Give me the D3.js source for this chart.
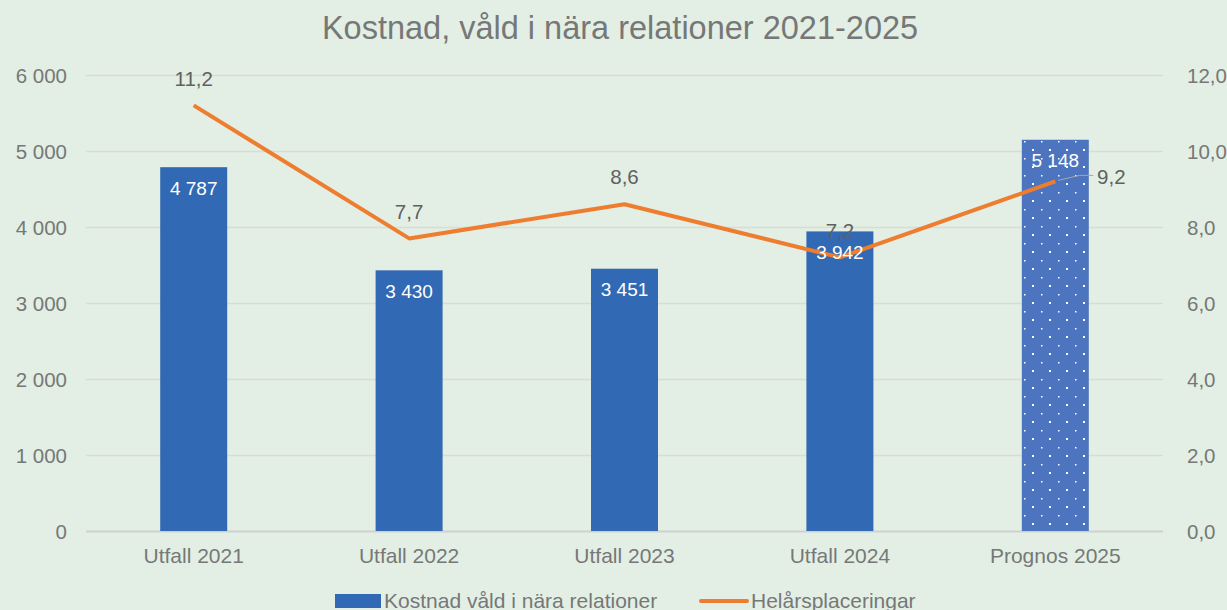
<!DOCTYPE html>
<html>
  <head>
    <meta charset="UTF-8" />
    <style>
      body { margin: 0; background: #e3efe4; }
      svg { display: block; font-family: "Liberation Sans", Arial, sans-serif; }
    </style>
  </head>
  <body>
    <svg></svg>
    <script src="https://d3js.org/d3.v7.min.js"></script>
    <script>
      let width = 1227,
        height = 610;

      // data
      var categories = ["Utfall 2021", "Utfall 2022", "Utfall 2023", "Utfall 2024", "Prognos 2025"];
      var kostnad = [4787, 3430, 3451, 3942, 5148];
      var placeringar = [11.2, 7.7, 8.6, 7.2, 9.2];
      var leftTicks = [0, 1000, 2000, 3000, 4000, 5000, 6000];
      var rightTicks = [0, 2, 4, 6, 8, 10, 12];

      let svg = d3.select("svg").attr("width", width).attr("height", height);

      svg.append("rect").attr("width", width).attr("height", height).attr("fill", "#e3efe4");

      // dotted pattern for forecast bar
      let defs = svg.append("defs");
      let pat = defs
        .append("pattern")
        .attr("id", "dots")
        .attr("patternUnits", "userSpaceOnUse")
        .attr("width", 17)
        .attr("height", 17);
      pat.append("rect").attr("width", 17).attr("height", 17).attr("fill", "#4d74be");
      pat.append("rect").attr("x", 4).attr("y", 5).attr("width", 1.5).attr("height", 1.5).attr("fill", "#fff");
      pat.append("rect").attr("x", 12).attr("y", 13).attr("width", 2).attr("height", 2).attr("fill", "#fff");

      let plotL = 86,
        plotR = 1163,
        plotT = 75,
        plotB = 531;

      let x = d3.scaleBand().domain(categories).range([plotL, plotR]);
      let yL = d3.scaleLinear().domain([0, 6000]).range([plotB, plotT]);
      let yR = d3.scaleLinear().domain([0, 12]).range([plotB, plotT]);

      let fmtL = (d) => d3.format(",")(d).replace(",", " ");
      let fmtR = (d) => d3.format(".1f")(d).replace(".", ",");

      let grey = "#767878";

      // title
      svg
        .append("text")
        .attr("x", 620)
        .attr("y", 39)
        .attr("text-anchor", "middle")
        .attr("font-size", 32.5)
        .attr("fill", grey)
        .text("Kostnad, våld i nära relationer 2021-2025");

      // gridlines
      svg
        .append("g")
        .selectAll("line")
        .data(leftTicks)
        .enter()
        .append("line")
        .attr("x1", plotL)
        .attr("x2", plotR)
        .attr("y1", (d) => yL(d) + 0.5)
        .attr("y2", (d) => yL(d) + 0.5)
        .attr("stroke", (d) => (d == 0 ? "#d0d0d0" : "#d6dcd6"))
        .attr("stroke-width", (d) => (d == 0 ? 2 : 1.5));

      // left axis
      let axL = svg.append("g").attr("transform", "translate(" + (plotL - 19) + ",0)")
        .call(d3.axisLeft(yL).tickValues(leftTicks).tickFormat(fmtL).tickSize(0));
      axL.select(".domain").remove();
      axL.selectAll("text").attr("x", 0).attr("font-size", 20.5).attr("fill", grey).attr("dy", "0.35em").attr("font-family", "Liberation Sans, Arial, sans-serif");

      // right axis
      let axR = svg.append("g").attr("transform", "translate(" + (plotR + 24) + ",0)")
        .call(d3.axisRight(yR).tickValues(rightTicks).tickFormat(fmtR).tickSize(0));
      axR.select(".domain").remove();
      axR.selectAll("text").attr("font-size", 20.5).attr("fill", grey).attr("dy", "0.35em").attr("x", 0).attr("font-family", "Liberation Sans, Arial, sans-serif");

      // x axis
      let axX = svg.append("g").attr("transform", "translate(0," + plotB + ")")
        .call(d3.axisBottom(x).tickSize(0));
      axX.select(".domain").remove();
      axX.selectAll("text").attr("font-size", 21).attr("fill", grey).attr("y", 25).attr("dy", "0.35em").attr("font-family", "Liberation Sans, Arial, sans-serif");

      // bars
      let bw = 67;
      svg
        .append("g")
        .selectAll("rect")
        .data(kostnad)
        .enter()
        .append("rect")
        .attr("x", (d, i) => x(categories[i]) + x.bandwidth() / 2 - bw / 2)
        .attr("width", bw)
        .attr("y", (d) => yL(d))
        .attr("height", (d) => yL(0) - yL(d))
        .attr("fill", (d, i) => (i == 4 ? "url(#dots)" : "#3269b4"));

      // line
      let line = d3
        .line()
        .x((d, i) => x(categories[i]) + x.bandwidth() / 2)
        .y((d) => yR(d));
      svg
        .append("path")
        .datum(placeringar)
        .attr("d", line)
        .attr("fill", "none")
        .attr("stroke", "#ee7d2f")
        .attr("stroke-width", 4)
        .attr("stroke-linejoin", "round");

      // bar labels
      svg
        .append("g")
        .selectAll("text")
        .data(kostnad)
        .enter()
        .append("text")
        .attr("x", (d, i) => x(categories[i]) + x.bandwidth() / 2)
        .attr("y", (d) => yL(d) + 21)
        .attr("dy", "0.35em")
        .attr("text-anchor", "middle")
        .attr("font-size", 19)
        .attr("fill", "#fff")
        .text(fmtL);

      // leader line for last point
      let lx = x(categories[4]) + x.bandwidth() / 2,
        ly = yR(placeringar[4]);
      svg
        .append("path")
        .attr("d", "M" + (lx + 3) + "," + (ly - 1) + "L" + (lx + 24) + "," + (ly - 6) + "L" + (lx + 38) + "," + (ly - 6))
        .attr("fill", "none")
        .attr("stroke", "#a6a6a6")
        .attr("stroke-width", 1);

      // line labels
      svg
        .append("g")
        .selectAll("text")
        .data(placeringar)
        .enter()
        .append("text")
        .attr("x", (d, i) => x(categories[i]) + x.bandwidth() / 2 + (i == 4 ? 56 : 0))
        .attr("y", (d, i) => yR(d) + (i == 4 ? -5 : -27))
        .attr("dy", "0.35em")
        .attr("text-anchor", "middle")
        .attr("font-size", 20.5)
        .attr("fill", "#5f6161")
        .text(fmtR);

      // legend
      let lg = svg.append("g").attr("transform", "translate(335,601)");
      lg.append("rect").attr("x", 0).attr("y", -7).attr("width", 46).attr("height", 14).attr("fill", "#3269b4");
      lg.append("text").attr("x", 49).attr("y", 0).attr("dy", "0.35em").attr("font-size", 21).attr("fill", grey).text("Kostnad våld i nära relationer");
      lg.append("line").attr("x1", 366).attr("x2", 412).attr("y1", 0).attr("y2", 0).attr("stroke", "#ee7d2f").attr("stroke-width", 4).attr("stroke-linecap", "round");
      lg.append("text").attr("x", 416).attr("y", 0).attr("dy", "0.35em").attr("font-size", 21).attr("fill", grey).text("Helårsplaceringar");
    </script>
  </body>
</html>
